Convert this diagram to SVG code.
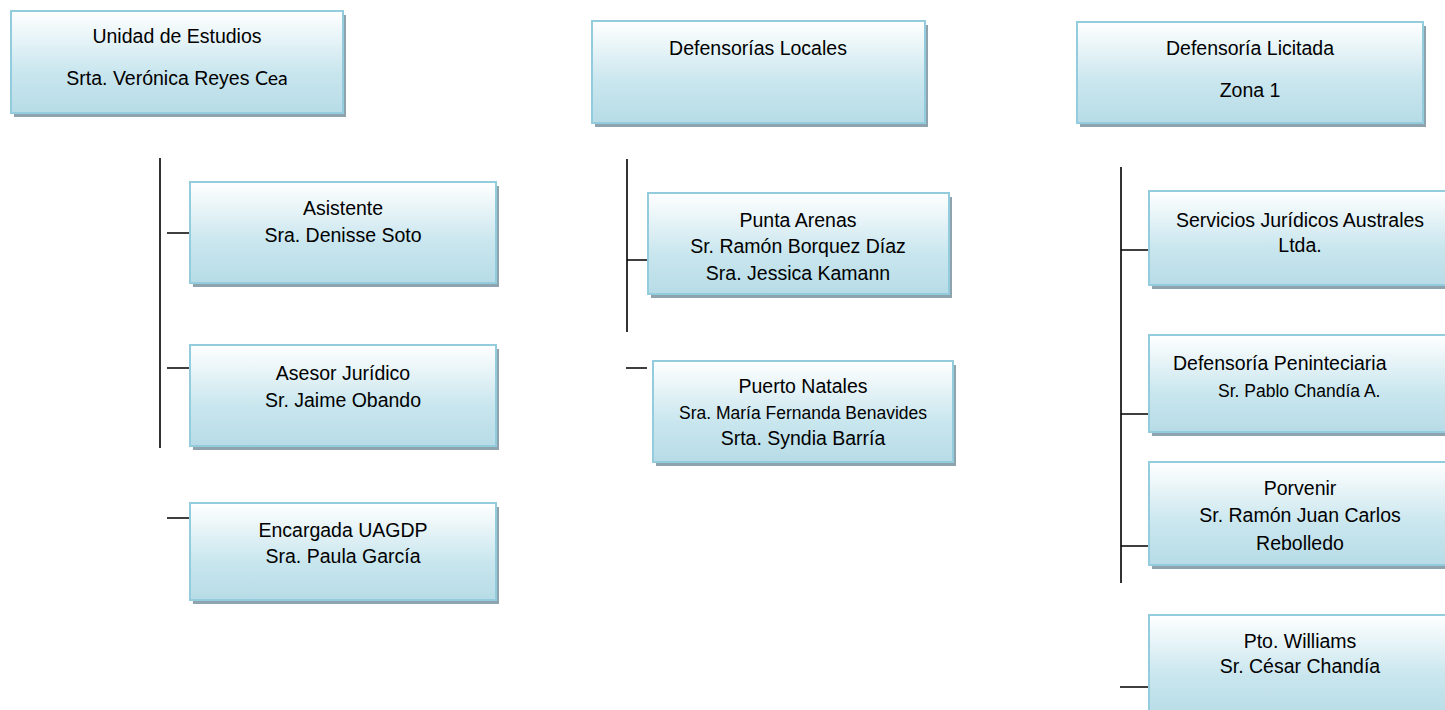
<svg xmlns="http://www.w3.org/2000/svg" width="1445" height="710" viewBox="0 0 1445 710">
<defs>
<linearGradient id="g" x1="0" y1="0" x2="0" y2="1">
<stop offset="0" stop-color="#ffffff"/>
<stop offset="0.6" stop-color="#c9e6ee"/>
<stop offset="1" stop-color="#b7dce7"/>
</linearGradient>
</defs>
<style>
.sh{fill:#8ea3ad}
.bx{fill:url(#g);stroke:#93cddd;stroke-width:2}
text{font-family:"Liberation Sans",Arial,sans-serif;font-size:19.5px;fill:#000;text-anchor:middle}
.sm{font-size:17.5px}
.ln{stroke:#000;stroke-width:1.6;fill:none}
</style>
<rect width="1445" height="710" fill="#fff"/>
<g id="connectors">
<path class="ln" d="M160 158V448M167 233H190M167 368H190M167 518H190"/>
<path class="ln" d="M627 159V332M627 260H648M626 368H647"/>
<path class="ln" d="M1121 167V583M1121 250H1149M1121 414H1149M1121 546H1149M1120 687H1149"/>
</g>
<g id="unidad">
<rect class="sh" x="14" y="15" width="332" height="102"/>
<rect class="bx" x="11" y="11" width="332" height="102"/>
<text x="177" y="43">Unidad de Estudios</text>
<text x="177" y="85">Srta. Verónica Reyes <tspan font-family="Lato,'Open Sans',sans-serif">Cea</tspan></text>
</g>
<g id="asistente">
<rect class="sh" x="193" y="186" width="306" height="101"/>
<rect class="bx" x="190" y="182" width="306" height="101"/>
<text x="343" y="215">Asistente</text>
<text x="343" y="242">Sra. Denisse Soto</text>
</g>
<g id="asesor">
<rect class="sh" x="193" y="349" width="306" height="101"/>
<rect class="bx" x="190" y="345" width="306" height="101"/>
<text x="343" y="380">Asesor Jurídico</text>
<text x="343" y="407">Sr. Jaime Obando</text>
</g>
<g id="encargada">
<rect class="sh" x="193" y="507" width="306" height="97"/>
<rect class="bx" x="190" y="503" width="306" height="97"/>
<text x="343" y="537">Encargada UAGDP</text>
<text x="343" y="563">Sra. Paula García</text>
</g>
<g id="defensorias">
<rect class="sh" x="595" y="25" width="333" height="102"/>
<rect class="bx" x="592" y="21" width="333" height="102"/>
<text x="758" y="55">Defensorías Locales</text>
</g>
<g id="punta">
<rect class="sh" x="651" y="197" width="301" height="101"/>
<rect class="bx" x="648" y="193" width="301" height="101"/>
<text x="798" y="227">Punta Arenas</text>
<text x="798" y="253">Sr. Ramón Borquez Díaz</text>
<text x="798" y="280">Sra. Jessica Kamann</text>
</g>
<g id="natales">
<rect class="sh" x="656" y="365" width="300" height="101"/>
<rect class="bx" x="653" y="361" width="300" height="101"/>
<text x="803" y="393">Puerto Natales</text>
<text class="sm" x="803" y="419">Sra. María Fernanda Benavides</text>
<text x="803" y="445">Srta. Syndia Barría</text>
</g>
<g id="licitada">
<rect class="sh" x="1080" y="26" width="346" height="101"/>
<rect class="bx" x="1077" y="22" width="346" height="101"/>
<text x="1250" y="55">Defensoría Licitada</text>
<text x="1250" y="97">Zona 1</text>
</g>
<g id="servicios">
<rect class="sh" x="1152" y="195" width="304" height="94"/>
<rect class="bx" x="1149" y="191" width="304" height="94"/>
<text x="1300" y="227">Servicios Jurídicos Australes</text>
<text x="1300" y="252">Ltda.</text>
</g>
<g id="penitenciaria">
<rect class="sh" x="1152" y="339" width="304" height="97"/>
<rect class="bx" x="1149" y="335" width="304" height="97"/>
<text x="1173" y="370" style="text-anchor:start">Defensoría Peninteciaria</text>
<text class="sm" x="1218" y="397" style="text-anchor:start">Sr. Pablo Chandía A.</text>
</g>
<g id="porvenir">
<rect class="sh" x="1152" y="466" width="304" height="103"/>
<rect class="bx" x="1149" y="462" width="304" height="103"/>
<text x="1300" y="495">Porvenir</text>
<text x="1300" y="522">Sr. Ramón Juan Carlos</text>
<text x="1300" y="550">Rebolledo</text>
</g>
<g id="williams">
<rect class="sh" x="1152" y="619" width="304" height="101"/>
<rect class="bx" x="1149" y="615" width="304" height="101"/>
<text x="1300" y="648">Pto. Williams</text>
<text x="1300" y="673">Sr. César Chandía</text>
</g>
</svg>
